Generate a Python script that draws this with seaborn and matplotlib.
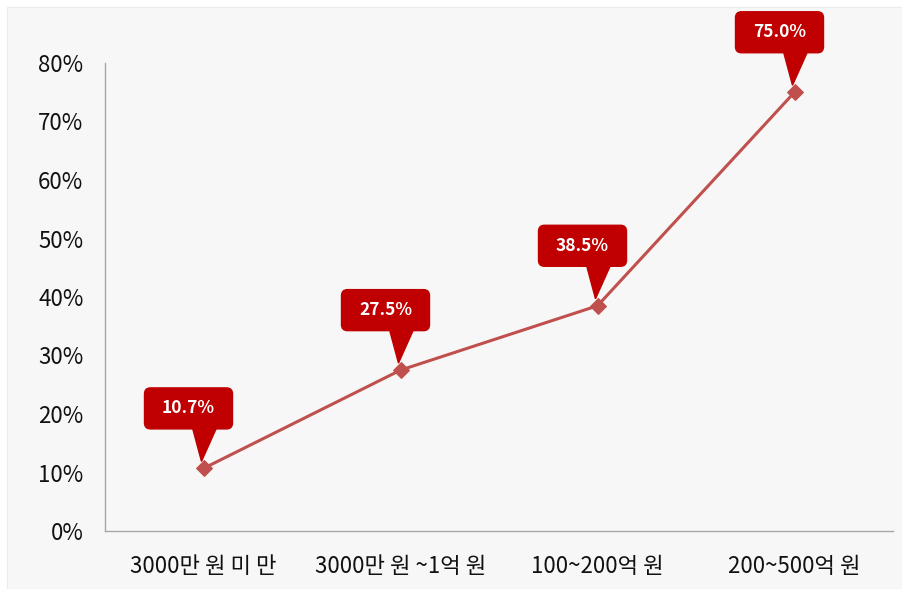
import matplotlib
matplotlib.use("Agg")
import matplotlib.pyplot as plt
import seaborn as sns
import pandas as pd
from matplotlib.patches import FancyBboxPatch, Polygon, Rectangle
from matplotlib.ticker import FuncFormatter

# Data
categories = ["3000만 원 미 만", "3000만 원 ~1억 원", "100~200억 원", "200~500억 원"]
rates = [10.7, 27.5, 38.5, 75.0]
y_ticks = [0, 10, 20, 30, 40, 50, 60, 70, 80]

sns.set_theme(style="white")
plt.rcParams["font.family"] = ["Noto Sans CJK KR", "DejaVu Sans"]

W, H, DPI = 902, 589, 100
fig = plt.figure(figsize=(W / DPI, H / DPI), dpi=DPI, facecolor="white")

# light panel behind the chart
fig.patches.append(Rectangle((7 / W, 0), 1, (H - 7) / H, transform=fig.transFigure,
                             facecolor="#f7f7f7", edgecolor="#ececec", lw=0.8, zorder=-5))

ax = fig.add_axes([105 / W, (H - 531) / H, (893 - 105) / W, (531 - 63) / H])
ax.set_facecolor("none")

df = pd.DataFrame({"cat": categories, "rate": rates, "pos": range(len(categories))})
sns.lineplot(data=df, x="pos", y="rate", ax=ax, color="#c0504d", lw=2.2,
             marker="D", markersize=8, markeredgecolor="#c0504d", zorder=3)

ax.set_xlim(-0.5, len(categories) - 0.5)
ax.set_ylim(0, 80)
ax.set_xticks(range(len(categories)))
ax.set_xticklabels(categories)
ax.set_yticks(y_ticks)
ax.yaxis.set_major_formatter(FuncFormatter(lambda v, _: f"{v:.0f}%"))
ax.set_xlabel("")
ax.set_ylabel("")
ax.tick_params(axis="both", length=0, labelsize=16, colors="#111111")
ax.tick_params(axis="y", pad=15.5)
ax.tick_params(axis="x", pad=17)
for lbl in ax.get_xticklabels() + ax.get_yticklabels():
    lbl.set_fontweight("medium")
for s in ["top", "right"]:
    ax.spines[s].set_visible(False)
for s in ["left", "bottom"]:
    ax.spines[s].set_color("#a6a6a6")
    ax.spines[s].set_linewidth(1.0)

# value callouts (pixel geometry relative to each point)
fig.canvas.draw()
box_w, box_h = 88, 41
for i, v in enumerate(rates):
    px, py = ax.transData.transform((i, v))
    cx, cy = px - 15, py + 60
    bx0, by0 = cx - box_w / 2, cy - box_h / 2
    fig.patches.append(FancyBboxPatch((bx0, by0), box_w, box_h,
                                      boxstyle="round,pad=0,rounding_size=6",
                                      transform=None, facecolor="#c00000",
                                      edgecolor="#c00000", zorder=5))
    fig.patches.append(Polygon([(px - 11, by0 + 1), (px + 13, by0 + 1), (px - 2, py + 7)],
                               closed=True, transform=None, facecolor="#c00000",
                               edgecolor="#c00000", zorder=5))
    fig.text(cx / W, cy / H, f"{v:.1f}%", ha="center", va="center", color="white",
             fontsize=12.5, fontweight="heavy", zorder=6)

fig.savefig("out.png", dpi=DPI, facecolor=fig.get_facecolor())
